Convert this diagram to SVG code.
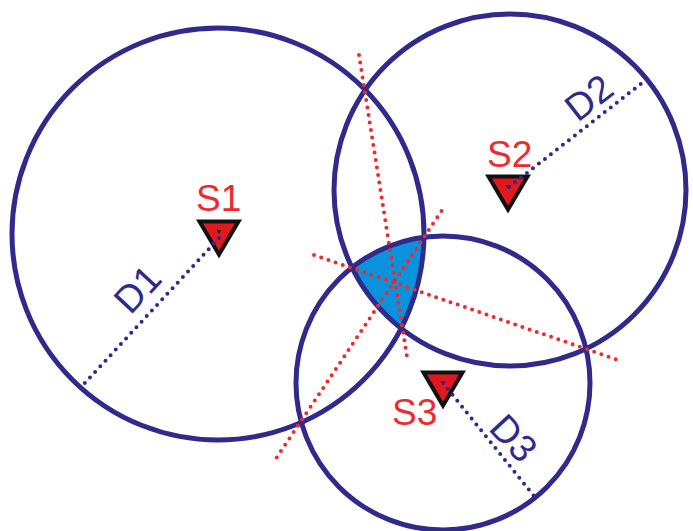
<svg xmlns="http://www.w3.org/2000/svg" width="693" height="531" viewBox="0 0 693 531">
<defs>
<style>
.circle{fill:none;stroke:#2f2a8b;stroke-width:5}
.red{fill:none;stroke:#ee2a2e;stroke-width:4;stroke-linecap:round;stroke-dasharray:0 7.600}
.blue{fill:none;stroke:#2f2a8b;stroke-width:4;stroke-linecap:round;stroke-dasharray:0 7.600}
.s{font-family:"Liberation Sans",Arial,sans-serif;font-size:37px;fill:#ee2a2e}
.d{font-family:"Liberation Sans",Arial,sans-serif;font-size:38px;fill:#2f2a8b;text-anchor:middle}
.tri{fill:#e3181f;stroke:#111;stroke-width:4;stroke-linejoin:miter}
.core{fill:#222}
</style>
<path id="tri" class="tri" d="M-19.500 -15.500H19.500L0 17.500Z"/>
<path id="core" class="core" d="M-2.500 -7H2.500L0 -3Z"/>
</defs>
<rect width="693" height="531" fill="#fff"/>
<path id="region" d="M351 267A147 147 0 0 1 425 238A206 206 0 0 1 400 328A176 176 0 0 1 351 267Z" fill="#0a93dc"/>
<g id="c1"><circle class="circle" cx="218" cy="234" r="206"/></g>
<g id="c2"><circle class="circle" cx="510" cy="190" r="176"/></g>
<g id="c3"><circle class="circle" cx="443" cy="383" r="147"/></g>
<g id="s1"><use href="#tri" x="219" y="237"/><use href="#core" x="219" y="237"/><text class="s" x="196" y="211">S1</text></g>
<g id="s2"><use href="#tri" x="508" y="192"/><use href="#core" x="508" y="192"/><text class="s" x="487" y="167">S2</text></g>
<g id="s3"><use href="#tri" x="443" y="388"/><use href="#core" x="443" y="388"/><text class="s" x="392" y="425">S3</text></g>
<g id="connectors">
<path class="red" d="M359 55L407.500 360"/>
<path class="red" d="M441.500 211L275 460"/>
<path class="red" d="M314 255L621 361"/>
<path class="blue" d="M219 238L83 385"/>
<path class="blue" d="M509 187L642 83"/>
<path class="blue" d="M443 383L534 496"/>
</g>
<g id="d1"><text class="d" transform="translate(147 298) rotate(-47)">D1</text></g>
<g id="d2"><text class="d" transform="translate(597 108) rotate(-38)">D2</text></g>
<g id="d3"><text class="d" transform="translate(504 447) rotate(47)">D3</text></g>
</svg>
